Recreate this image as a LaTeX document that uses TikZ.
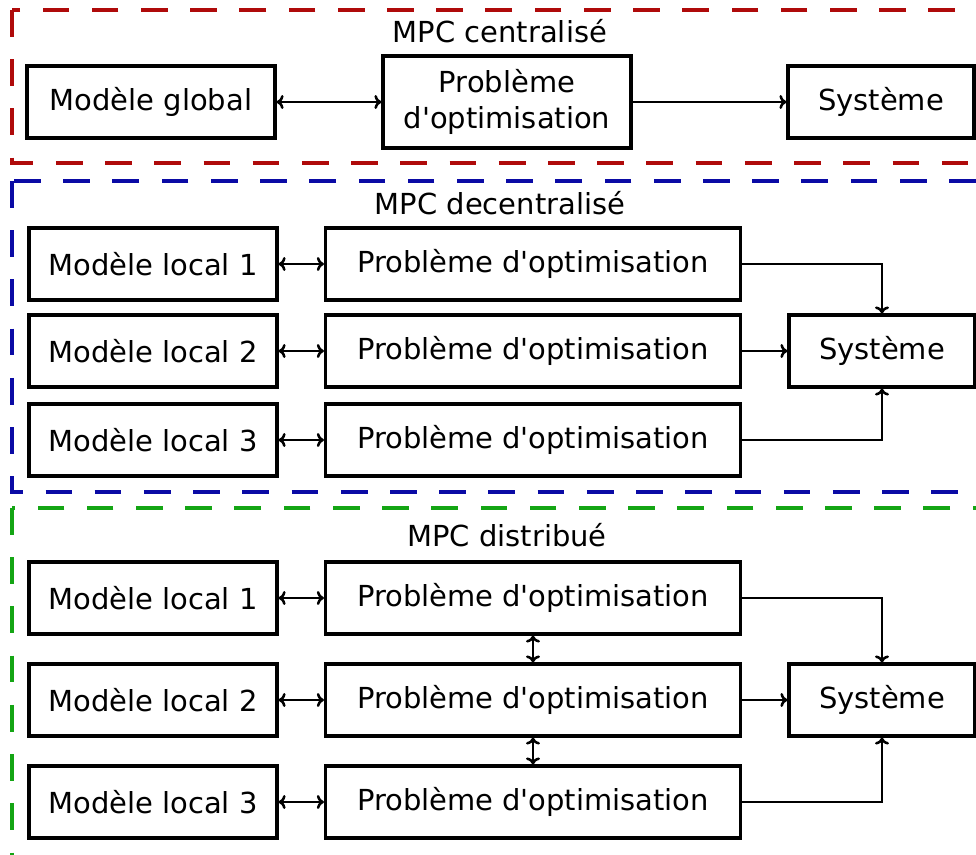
\documentclass[tikz,border=0pt]{standalone}
\usepackage{fontspec}
\setmainfont{DejaVu Sans}[Ligatures=TeXOff]
\usetikzlibrary{positioning,arrows.meta}
\definecolor{mpcred}{RGB}{175,10,10}
\definecolor{mpcblue}{RGB}{10,10,165}
\definecolor{mpcgreen}{RGB}{20,165,20}

\begin{document}
\begin{tikzpicture}[x=0.025cm,y=-0.025cm,
  font=\fontsize{20.6}{25}\selectfont,
  box/.style={draw,line width=2.2pt,inner sep=0pt,minimum height=1.8cm,align=center},
  modbox/.style={box,minimum width=6.2cm},
  optbox/.style={box,minimum width=10.375cm},
  sysbox/.style={box,minimum width=4.65cm},
  link/.style={line width=1.8pt,>={To[length=5pt,width=10pt]}},
  frame/.style={line width=2.2pt,dash pattern=on 19pt off 16pt}]
\clip (0,0) rectangle (976,855);

% frames
\draw[frame,mpcred] (12,10) rectangle (995,163);
\draw[frame,mpcblue] (12,181) rectangle (995,492);
\draw[frame,mpcgreen] (12,508) rectangle (995,880);

% MPC centralise
\path (500,31) node (tcent) {MPC centralisé}
(151,102) node[modbox] (mglobal) {Modèle global}
(507,102) node[box,minimum width=6.2cm,minimum height=2.3cm] (popt) {Problème\\d'optimisation}
(881,102) node[sysbox] (sysc) {Système};
\draw[link,<->] (mglobal) -- (popt);
\draw[link,->] (popt) -- (sysc);

% MPC decentralise
\path (500,203) node (tdec) {MPC decentralisé}
(153,264) node[modbox] (ml1) {Modèle local 1}
(153,351) node[modbox] (ml2) {Modèle local 2}
(153,440) node[modbox] (ml3) {Modèle local 3}
(533,264) node[optbox] (po1) {Problème d'optimisation}
(533,351) node[optbox] (po2) {Problème d'optimisation}
(533,440) node[optbox] (po3) {Problème d'optimisation}
(882,351) node[sysbox] (sysd) {Système};
\draw[link,<->] (ml1) -- (po1);
\draw[link,<->] (ml2) -- (po2);
\draw[link,<->] (ml3) -- (po3);
\draw[link,->] (po1.east) -| (sysd.north);
\draw[link,->] (po2) -- (sysd);
\draw[link,->] (po3.east) -| (sysd.south);

% MPC distribue
\path (507,535) node (tdist) {MPC distribué}
(153,598) node[modbox] (dl1) {Modèle local 1}
(153,700) node[modbox] (dl2) {Modèle local 2}
(153,802) node[modbox] (dl3) {Modèle local 3}
(533,598) node[optbox] (dp1) {Problème d'optimisation}
(533,700) node[optbox] (dp2) {Problème d'optimisation}
(533,802) node[optbox] (dp3) {Problème d'optimisation}
(882,700) node[sysbox] (sysdist) {Système};
\draw[link,<->] (dl1) -- (dp1);
\draw[link,<->] (dl2) -- (dp2);
\draw[link,<->] (dl3) -- (dp3);
\draw[link,<->] (dp1) -- (dp2);
\draw[link,<->] (dp2) -- (dp3);
\draw[link,->] (dp1.east) -| (sysdist.north);
\draw[link,->] (dp2) -- (sysdist);
\draw[link,->] (dp3.east) -| (sysdist.south);
\end{tikzpicture}
\end{document}
